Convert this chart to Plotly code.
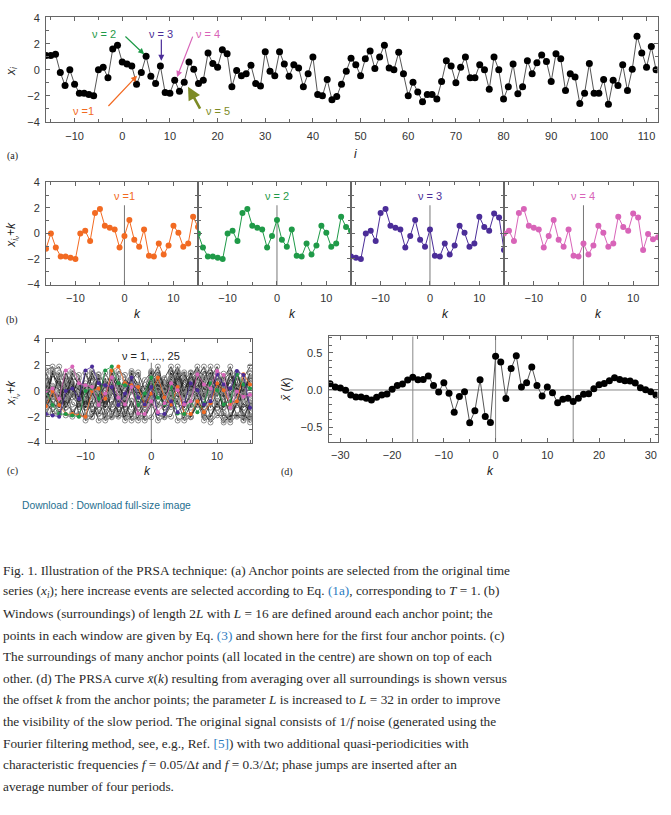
import plotly.graph_objects as go

# --- Data ---
# (a) original series x_i, i = -16 .. 112
i_start = -16
series_x = [
    1.1, 1.1, 1.2, -0.2, -1.2, 0.0, -1.1, -1.8, -1.8, -1.9, -2.0, 0.0, 0.2, -0.6, 1.6, 1.9,
    0.6, 0.45, 0.3, -1.1, -0.2, 1.05, -0.5, -1.05, 0.3, -1.75,
    -1.8, -0.8, -1.65, -0.95, 0.6, 0.05, -1.05, -0.8, 1.3, 0.5,
    0.2, 1.55, 1.25, -1.3, -0.05, -0.45, -0.3, 0.35, -1.05, -1.25,
    1.4, -0.1, -0.45, 1.4, 0.45, -0.5, 0.4, 0.15, -1.3, -0.3,
    1.0, -1.9, -2.0, -0.75, -2.3, -2.05, -1.1, -0.1, 0.9, 0.4,
    -0.45, 0.85, 1.45, 0.1, 1.0, 1.9, 0.15, 0.0, 1.35, -0.3,
    -2.0, -0.95, -1.7, -2.45, -1.9, -1.9, -2.25, -0.9, 0.7, 0.3,
    -1.0, 0.2, 1.0, -0.6, -0.6, 0.4, 0.0, -1.5, 1.0, 0.0,
    -2.25, -1.3, 0.45, -1.85, -1.3, 0.7, -0.3, 0.55, 1.15, 0.65,
    -0.9, 1.25, 0.85, -1.6, -0.3, -0.55, -2.6, -1.8, 0.5, -1.8,
    -1.8, -0.75, -2.65, -0.8, -1.2, 0.4, -1.6, 0.05, 2.6, 1.3,
    0.2, 1.8, 0.0,
]
series_i = list(range(i_start, i_start + len(series_x)))

# anchor points (increase events), nu = 1 .. 25
anchors = [4, 5, 8, 11, 13, 14, 17, 18, 21, 24, 26, 27, 30, 33, 36,
           39, 40, 43, 45, 46, 47, 48, 51, 52, 54]
nu_colors = ['#f26a22', '#1f9a48', '#4b2d98', '#d864b8', '#7d8b26']
nu_labels = ['\u03bd =1', '\u03bd = 2', '\u03bd = 3', '\u03bd = 4', '\u03bd = 5']
L = 16
win_k = list(range(-L, L))

# (d) PRSA curve, k = -32 .. 31
prsa_k = list(range(-32, 32))
prsa_x = [
    0.085, 0.04, 0.027, -0.005, -0.067, -0.093, -0.093, -0.11, -0.133, -0.098,
    -0.067, -0.053, 0.01, 0.062, 0.08, 0.133, 0.17, 0.138, 0.142, 0.187,
    0.062, -0.027, 0.098, -0.044, -0.3, -0.089, -0.022, -0.44, -0.28, 0.138,
    -0.356, -0.436, 0.453, 0.378, -0.116, 0.289, 0.462, 0.04, 0.098, 0.311,
    0.062, -0.08, 0.04, -0.036, -0.173, -0.124, -0.11, -0.156, -0.11, -0.058,
    -0.049, 0.018, 0.071, 0.089, 0.124, 0.164, 0.142, 0.124, 0.12, 0.093,
    0.031, 0.004, -0.022, -0.067,
]
prsa_vlines = [-16, 0, 15]

caption_lines = [
    "Fig. 1. Illustration of the PRSA technique: (a) Anchor points are selected from the original time",
    "series (<i>x<sub>i</sub></i>); here increase events are selected according to Eq. <span style='color:#2b7bbf'>(1a)</span>, corresponding to <i>T</i> = 1. (b)",
    "Windows (surroundings) of length 2<i>L</i> with <i>L</i> = 16 are defined around each anchor point; the",
    "points in each window are given by Eq. <span style='color:#2b7bbf'>(3)</span> and shown here for the first four anchor points. (c)",
    "The surroundings of many anchor points (all located in the centre) are shown on top of each",
    "other. (d) The PRSA curve <i>x\u0304</i>(<i>k</i>) resulting from averaging over all surroundings is shown versus",
    "the offset <i>k</i> from the anchor points; the parameter <i>L</i> is increased to <i>L</i> = 32 in order to improve",
    "the visibility of the slow period. The original signal consists of 1/<i>f</i> noise (generated using the",
    "Fourier filtering method, see, e.g., Ref. <span style='color:#2b7bbf'>[5]</span>) with two additional quasi-periodicities with",
    "characteristic frequencies <i>f</i> = 0.05/\u0394<i>t</i> and <i>f</i> = 0.3/\u0394<i>t</i>; phase jumps are inserted after an",
    "average number of four periods.",
]

W, H = 671, 815


def px(x):
    return x / W


def py(y):
    return 1 - y / H


def window(anchor):
    return [series_x[anchor + k - i_start] for k in win_k]


SANS = 'Liberation Sans, Arial, sans-serif'
SERIF = 'Liberation Serif, Times New Roman, serif'
AX = '#666'


def axis(anchor, dom, rng, dtick, minor, labels=True, fmt=None):
    d = dict(anchor=anchor, domain=dom, range=rng, dtick=dtick, tick0=0, showline=True,
             linecolor=AX, linewidth=1, mirror='allticks', ticks='inside', ticklen=4,
             tickcolor=AX, showgrid=False, zeroline=False, showticklabels=labels,
             ticklabelstandoff=3, tickfont=dict(family=SANS, size=11, color='#333'),
             minor=dict(dtick=minor, ticks='inside', ticklen=3, tickcolor=AX, showgrid=False))
    if fmt:
        d['tickformat'] = fmt
    return d


fig = go.Figure()

# --- (a) series ---
fig.add_trace(go.Scatter(x=series_i, y=series_x, mode='lines+markers',
                         line=dict(color='#555', width=1),
                         marker=dict(color='black', size=7), xaxis='x', yaxis='y'))

# --- (b) four windows ---
for n in range(4):
    fig.add_trace(go.Scatter(x=win_k, y=window(anchors[n]), mode='lines+markers',
                             line=dict(color=nu_colors[n], width=1),
                             marker=dict(color=nu_colors[n], size=6),
                             xaxis=f'x{n + 2}', yaxis=f'y{n + 2}'))

# --- (c) all 25 windows ---
for a in anchors[4:]:
    fig.add_trace(go.Scatter(x=win_k, y=window(a), mode='lines+markers',
                             line=dict(color='#222', width=0.8),
                             marker=dict(symbol='circle-open', color='#8a8a8a', size=5),
                             xaxis='x6', yaxis='y6'))
for n in range(4):
    fig.add_trace(go.Scatter(x=win_k, y=window(anchors[n]), mode='lines+markers',
                             line=dict(color=nu_colors[n], width=0.8),
                             marker=dict(color=nu_colors[n], size=4),
                             xaxis='x6', yaxis='y6'))

# --- (d) PRSA curve ---
fig.add_trace(go.Scatter(x=prsa_k, y=prsa_x, mode='lines+markers',
                         line=dict(color='#555', width=1),
                         marker=dict(color='black', size=7), xaxis='x7', yaxis='y7'))

layout_axes = {
    'xaxis': axis('y', [px(46), px(657.5)], [-16, 112.3], 10, 5),
    'yaxis': axis('x', [py(118), py(11.5)], [-4.05, 4.05], 2, 1),
    'xaxis6': axis('y6', [px(46), px(252)], [-16, 15.3], 10, 5),
    'yaxis6': axis('x6', [py(443), py(337.5)], [-4.05, 4.05], 2, 1),
    'xaxis7': axis('y7', [px(328.5), px(657.5)], [-32.3, 31.3], 10, 5),
    'yaxis7': axis('x7', [py(442), py(335)], [-0.7, 0.72], 0.5, 0.1, fmt='.1f'),
}
b_edges = [46, 198, 351, 504, 658]
for n in range(4):
    layout_axes[f'xaxis{n + 2}'] = axis(f'y{n + 2}', [px(b_edges[n]), px(b_edges[n + 1])],
                                        [-16, 15], 10, 5)
    layout_axes[f'yaxis{n + 2}'] = axis(f'x{n + 2}', [py(283), py(178)], [-4.05, 4.05], 2, 1,
                                        labels=(n == 0))

shapes = []
for n in range(5):
    shapes.append(dict(type='line', xref=f'x{n + 2}', yref=f'y{n + 2}', x0=0, x1=0,
                       y0=-4.05, y1=2.2, line=dict(color='#777', width=1), layer='below'))
for k in prsa_vlines:
    shapes.append(dict(type='line', xref='x7', yref='y7 domain', x0=k, x1=k, y0=0, y1=1,
                       line=dict(color='#888', width=1), layer='below'))
shapes.append(dict(type='line', xref='x7 domain', yref='y7', x0=0, x1=1, y0=0, y1=0,
                   line=dict(color='#888', width=1), layer='below'))

ann = []


def text(x, y, s, size=11, color='#222', family=SANS, angle=0, xanchor='center', yanchor='middle'):
    ann.append(dict(xref='paper', yref='paper', x=px(x), y=py(y), text=s, showarrow=False,
                    textangle=angle, xanchor=xanchor, yanchor=yanchor,
                    font=dict(family=family, size=size, color=color)))


# arrows in (a): head (x, y), tail (ax, ay), label position
arrows = [
    (3.1, -0.45, -3.2, -2.9, -8.1, -3.15, 1.2),
    (4.6, 1.2, 0.35, 2.68, -3.9, 2.8, 1.2),
    (8.2, 0.7, 8.2, 2.45, 8.2, 2.8, 1.2),
    (11.5, -0.55, 14.9, 2.68, 17.9, 2.8, 1.2),
    (13.8, -1.3, 16.5, -3.1, 20.0, -3.15, 2.6),
]
for n, (hx, hy, tx, ty, lx, ly, w) in enumerate(arrows):
    ann.append(dict(xref='x', yref='y', axref='x', ayref='y', x=hx, y=hy, ax=tx, ay=ty,
                    text='', showarrow=True, arrowhead=2, arrowsize=1, arrowwidth=w,
                    arrowcolor=nu_colors[n], standoff=0, startstandoff=0))
    ann.append(dict(xref='x', yref='y', x=lx, y=ly, text=nu_labels[n], showarrow=False,
                    font=dict(family=SANS, size=11, color=nu_colors[n])))

# labels inside (b)
for n in range(4):
    ann.append(dict(xref=f'x{n + 2}', yref=f'y{n + 2}', x=0, y=2.9, text=nu_labels[n],
                    showarrow=False, font=dict(family=SANS, size=11, color=nu_colors[n])))
ann.append(dict(xref='x6', yref='y6', x=0, y=2.75, text='\u03bd = 1, ..., 25',
                showarrow=False, font=dict(family=SANS, size=11, color='#222')))

# axis titles and panel letters
text(12, 66, '<i>x<sub>i</sub></i>', size=12, angle=-90)
text(355, 150, '<i>i</i>', size=12)
text(12, 232, '<i>x<sub>i<sub>\u03bd</sub></sub>+k</i>', size=12, angle=-90)
for cx in [137, 292, 445, 598]:
    text(cx, 312, '<i>k</i>', size=12)
text(12, 392, '<i>x<sub>i<sub>\u03bd</sub></sub>+k</i>', size=12, angle=-90)
text(147, 471, '<i>k</i>', size=12)
text(286, 389, '<i>x\u0304</i> (<i>k</i>)', size=12, angle=-90)
text(490, 471, '<i>k</i>', size=12)
text(12, 152, '(a)', size=10, family=SERIF)
text(12, 318, '(b)', size=10, family=SERIF)
text(12, 471, '(c)', size=10, family=SERIF)
text(287, 472, '(d)', size=10, family=SERIF)

# download link and caption
text(20, 506, 'Download : Download full-size image', size=10.3, color='#1f6f8f',
     family='Liberation Sans Narrow, Liberation Sans, sans-serif', xanchor='left')
for n, line in enumerate(caption_lines):
    text(1, 572 + n * 21.9, line, size=13.3, color='#2a2a2a', family=SERIF, xanchor='left')

fig.update_layout(width=W, height=H, autosize=False, showlegend=False,
                  margin=dict(l=0, r=0, t=0, b=0),
                  paper_bgcolor='white', plot_bgcolor='white',
                  shapes=shapes, annotations=ann, **layout_axes)

# page margin off so the figure fills the window exactly
fig.write_html("out.html", config={'displayModeBar': False},
               post_script="document.body.style.margin='0';")
